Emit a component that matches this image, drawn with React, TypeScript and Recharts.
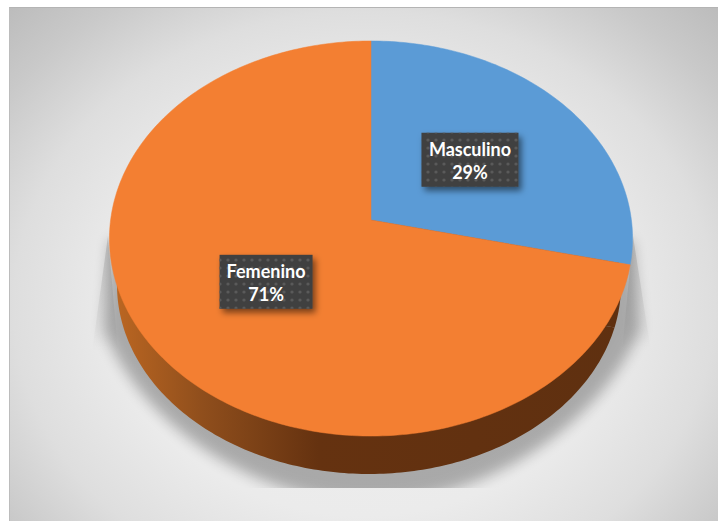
import { PieChart, Pie, Cell } from 'recharts'

const categories = ['Masculino', 'Femenino']
const shares = [28.6, 71.4]
const colors = ['#5B9BD6', '#F37F32']

const data = categories.map((name, i) => ({ name, value: shares[i] }))

const WIDTH = 718
const HEIGHT = 521

// the face is tilted, so the apex of the slices is above the middle of the ellipse
const APEX = { x: 371, y: 220 }
const TILT = -0.0937
const FACE = { a: 175.2, k: 260.4 }

function project(angle: number, r = 1) {
    const rad = (angle * Math.PI) / 180
    const u = Math.cos(rad) * r
    const v = -Math.sin(rad) * r
    const d = 1 + TILT * v
    return { x: APEX.x + (FACE.k * u) / d, y: (FACE.a * v + APEX.y) / d }
}

function FaceSector(props: any) {
    const { startAngle, endAngle, fill } = props
    const n = Math.ceil(Math.abs(endAngle - startAngle))
    let d = `M${APEX.x},${APEX.y}`
    for (let i = 0; i <= n; i++) {
        const p = project(startAngle + ((endAngle - startAngle) * i) / n)
        d += `L${p.x.toFixed(2)},${p.y.toFixed(2)}`
    }
    return <path d={d + 'Z'} fill={fill} stroke={fill} strokeWidth={0.5} />
}

// side wall: same slices pushed down and slightly narrowed
function WallSector(props: any) {
    const { startAngle, endAngle } = props
    const n = Math.ceil(Math.abs(endAngle - startAngle))
    let d = `M369,285`
    for (let i = 0; i <= n; i++) {
        const a = ((startAngle + ((endAngle - startAngle) * i) / n) * Math.PI) / 180
        d += `L${(369 + 252 * Math.cos(a)).toFixed(2)},${(285 - 189 * Math.sin(a)).toFixed(2)}`
    }
    return <path d={d + 'Z'} fill="url(#wall)" />
}

function PieLabel(props: any) {
    const { midAngle, name, percent } = props
    const p = project(midAngle, 0.5)
    const w = name === 'Masculino' ? 97 : 93
    const h = 54
    const top = p.y - 1 - h / 2
    return (
        <g>
            <rect x={p.x - w / 2} y={top} width={w} height={h} fill="#3F3F3F" filter="url(#boxShadow)" />
            <rect x={p.x - w / 2} y={top} width={w} height={h} fill="url(#dots)" />
            <text
                x={p.x}
                y={top + 23}
                textAnchor="middle"
                fill="#fff"
                fontFamily="Lato, sans-serif"
                fontWeight={700}
                fontSize={18}
            >
                {name}
            </text>
            <text
                x={p.x}
                y={top + 46}
                textAnchor="middle"
                fill="#fff"
                fontFamily="Lato, sans-serif"
                fontWeight={700}
                fontSize={18}
            >
                {`${Math.round(percent * 100)}%`}
            </text>
        </g>
    )
}

export default function App() {
    return (
        <div style={{ position: 'absolute', left: 0, top: 0, width: WIDTH, height: HEIGHT, background: '#fff' }}>
            <div
                style={{
                    position: 'absolute',
                    left: 9,
                    top: 7,
                    width: 709,
                    height: 514,
                    boxSizing: 'border-box',
                    borderTop: '1px solid #b4b4b4',
                    borderLeft: '1px solid #bcbcbc',
                    background:
                        'radial-gradient(ellipse farthest-corner at 50% 58%, #f0f0f0 0%, #ebebeb 50%, #dedede 70%, #c9c9c9 87%, #bcbcbc 100%)',
                }}
            />
            <div style={{ position: 'absolute', left: 0, top: 0 }}>
                <PieChart width={WIDTH} height={HEIGHT} margin={{ top: 0, right: 0, bottom: 0, left: 0 }}>
                    <defs>
                        <linearGradient id="wall" gradientUnits="userSpaceOnUse" x1="109" y1="0" x2="632" y2="0">
                            <stop offset="0%" stopColor="#BE6822" />
                            <stop offset="18%" stopColor="#8F4E1C" />
                            <stop offset="40%" stopColor="#653210" />
                            <stop offset="100%" stopColor="#5F3010" />
                        </linearGradient>
                        <linearGradient id="sliver" x1="0" y1="0" x2="0" y2="1">
                            <stop offset="0%" stopColor="#000" stopOpacity={0.14} />
                            <stop offset="100%" stopColor="#000" stopOpacity={0} />
                        </linearGradient>
                        <pattern id="dots" width="8" height="8" patternUnits="userSpaceOnUse">
                            <circle cx="4" cy="4" r="1.6" fill="#5A5A5A" />
                        </pattern>
                        <filter id="boxShadow" x="-20%" y="-20%" width="140%" height="150%">
                            <feDropShadow dx="3" dy="4" stdDeviation="3" floodColor="#000" floodOpacity="0.5" />
                        </filter>
                        <filter id="blur" x="-20%" y="-20%" width="140%" height="140%">
                            <feGaussianBlur stdDeviation="7" />
                        </filter>
                        <clipPath id="floor">
                            <rect x="0" y="0" width={WIDTH} height="488" />
                        </clipPath>
                    </defs>
                    <g clipPath="url(#floor)">
                        <path
                            d="M110,240 L104,330 C146,434 265,502 371,502 C477,502 594,434 640,330 L632,240 Z"
                            fill="#000"
                            opacity={0.28}
                            filter="url(#blur)"
                        />
                    </g>
                    <path d="M108,236 L92,352 L118,352 Z" fill="url(#sliver)" />
                    <path d="M633,236 L651,352 L622,352 Z" fill="url(#sliver)" />
                    <Pie
                        data={data}
                        dataKey="value"
                        cx={APEX.x}
                        cy={APEX.y}
                        outerRadius={180}
                        startAngle={90}
                        endAngle={-270}
                        stroke="none"
                        shape={WallSector}
                        isAnimationActive={false}
                    />
                    <Pie
                        data={data}
                        dataKey="value"
                        cx={APEX.x}
                        cy={APEX.y}
                        outerRadius={180}
                        startAngle={90}
                        endAngle={-270}
                        stroke="none"
                        shape={FaceSector}
                        label={PieLabel}
                        labelLine={false}
                        isAnimationActive={false}
                    >
                        {data.map((d, i) => (
                            <Cell key={d.name} fill={colors[i]} />
                        ))}
                    </Pie>
                </PieChart>
            </div>
        </div>
    )
}
